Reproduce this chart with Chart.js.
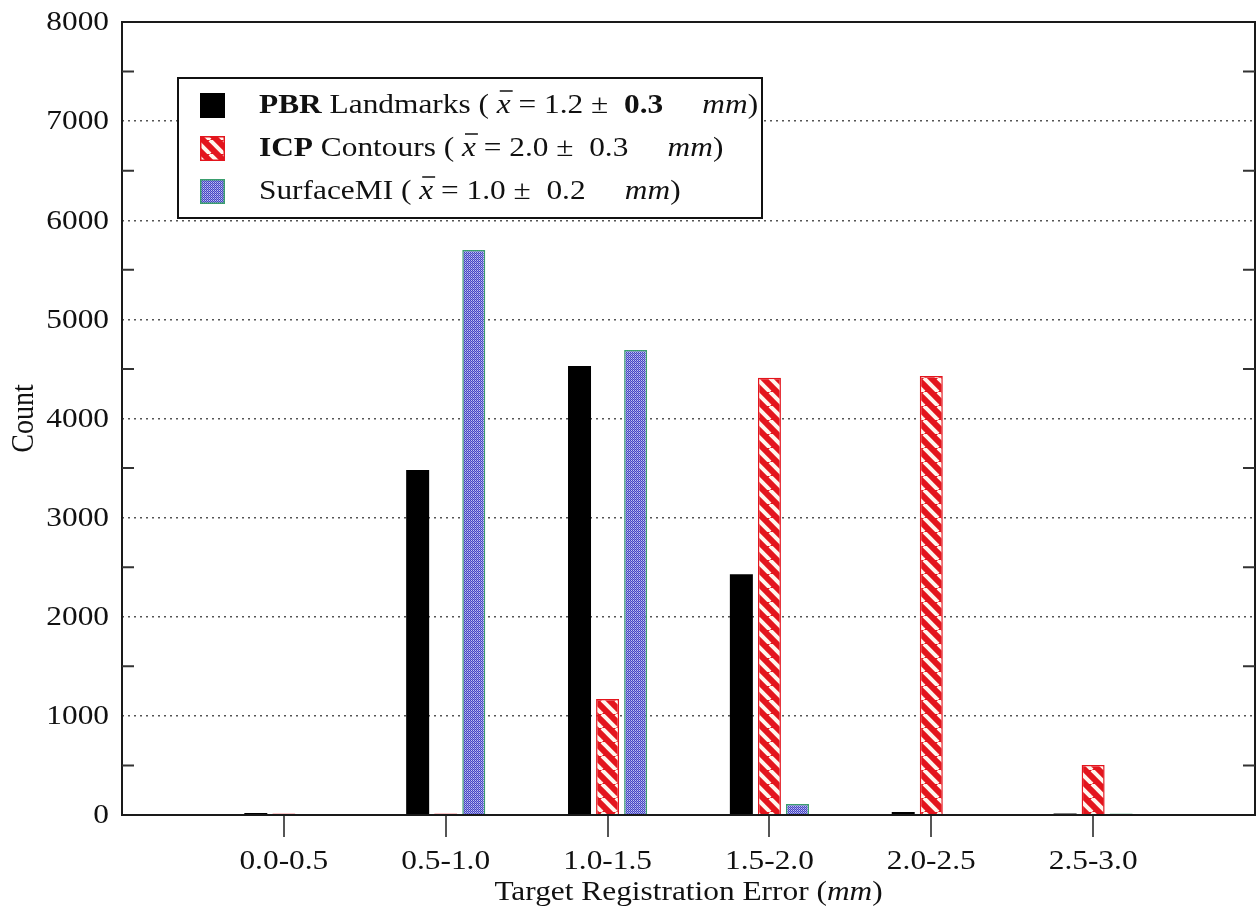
<!DOCTYPE html>
<html>
<head>
<meta charset="utf-8">
<script src="https://cdn.jsdelivr.net/npm/chart.js@4.4.0/dist/chart.umd.min.js"></script>
<style>
  html, body { margin: 0; padding: 0; background: #fff; }
</style>
</head>
<body>
<canvas id="tre-canvas" width="1257" height="911"></canvas>
<script>
// x bins (empty ones pad the frame at both ends)
const binLabels = ["", "0.0-0.5", "0.5-1.0", "1.0-1.5", "1.5-2.0", "2.0-2.5", "2.5-3.0", ""];
const pbrCounts = [10, 20, 3480, 4530, 2430, 30, 15, 0];
const icpCounts = [0, 15, 15, 1170, 4410, 4430, 505, 0];
const surfCounts = [10, 10, 5700, 4690, 110, 10, 15, 0];

const seriesNames = ["PBR Landmarks", "ICP Contours", "SurfaceMI"];
const seriesMeans = ["1.2", "2.0", "1.0"];
const seriesSds = ["0.3", "0.3", "0.2"];

const countMin = 0;
const countMax = 8000;
const countStep = 1000;
const countMinorStep = 500;

const xTitle = "Target Registration Error";
const xUnit = "mm";
const yTitle = "Count";

const FONT = "'Liberation Serif', 'Times New Roman', serif";
const FSIZE = 28;
const SX = 1.12; // the source picture is a bit wider than tall

var treChart;

function stripePattern() {
  const c = document.createElement("canvas");
  c.width = 14; c.height = 14;
  const g = c.getContext("2d");
  g.fillStyle = "#e3151d";
  g.fillRect(0, 0, 14, 14);
  g.strokeStyle = "#fff6ee";
  g.lineWidth = 4;
  for (const o of [-14, 0, 14]) {
    g.beginPath();
    g.moveTo(o, 0);
    g.lineTo(o + 14, 14);
    g.stroke();
  }
  return g.createPattern(c, "repeat");
}

function dotPattern() {
  const c = document.createElement("canvas");
  c.width = 2; c.height = 2;
  const g = c.getContext("2d");
  g.fillStyle = "#4545c4";
  g.fillRect(0, 0, 2, 2);
  g.fillStyle = "#c4c4f2";
  g.fillRect(1, 0, 1, 1);
  g.fillStyle = "#9090e0";
  g.fillRect(0, 1, 1, 1);
  return g.createPattern(c, "repeat");
}

const redFill = stripePattern();
const blueFill = dotPattern();

function fontOf(style) {
  return (style ? style + " " : "") + FSIZE + "px " + FONT;
}

// draws text stretched sideways, returns the drawn width
function wideText(ctx, t, x, y, style, align) {
  ctx.font = fontOf(style);
  const w = ctx.measureText(t).width * SX;
  let x0 = x;
  if (align === "center") x0 = x - w / 2;
  if (align === "right") x0 = x - w;
  ctx.save();
  ctx.translate(x0, y);
  ctx.scale(SX, 1);
  ctx.textAlign = "left";
  ctx.fillText(t, 0, 0);
  ctx.restore();
  return w;
}

function wideWidth(ctx, t, style) {
  ctx.font = fontOf(style);
  return ctx.measureText(t).width * SX;
}

// frame, minor ticks, tick labels, legend box and titles
const decorPlugin = {
  id: "decor",
  afterDatasetsDraw(chart) {
    const ctx = chart.ctx;
    const a = chart.chartArea;
    const ys = chart.scales.y;
    const xs = chart.scales.x;
    ctx.save();
    ctx.strokeStyle = "#1a1a1a";
    ctx.lineWidth = 2;
    ctx.strokeRect(a.left, a.top, a.right - a.left, a.bottom - a.top);
    ctx.strokeStyle = "#333";
    for (let v = countMin + countMinorStep; v < countMax; v += countStep) {
      const y = ys.getPixelForValue(v);
      ctx.beginPath();
      ctx.moveTo(a.left, y); ctx.lineTo(a.left + 12, y);
      ctx.moveTo(a.right, y); ctx.lineTo(a.right - 12, y);
      ctx.stroke();
    }

    ctx.fillStyle = "#111";
    ctx.textBaseline = "middle";
    ys.ticks.forEach((tk) => {
      wideText(ctx, String(tk.value), a.left - 13, ys.getPixelForValue(tk.value) + 1, "", "right");
    });
    binLabels.forEach((lab, i) => {
      if (lab) wideText(ctx, lab, xs.getPixelForTick(i), 862, "", "center");
    });
    ctx.restore();
  },
  afterDraw(chart) {
    const ctx = chart.ctx;
    const a = chart.chartArea;
    ctx.save();

    // legend
    const bx = 178, by = 78, bw = 584, bh = 140;
    ctx.fillStyle = "#fff";
    ctx.fillRect(bx, by, bw, bh);
    ctx.strokeStyle = "#111";
    ctx.lineWidth = 2;
    ctx.strokeRect(bx, by, bw, bh);

    const fills = ["#000", redFill, blueFill];
    const edges = ["#000", "#e3151d", "#3a9e6e"];
    const rowMid = [105, 148, 191];
    const bold = [["PBR", " Landmarks"], ["ICP", " Contours"], ["", "SurfaceMI"]];
    ctx.textBaseline = "middle";
    for (let i = 0; i < seriesNames.length; i++) {
      const sy = rowMid[i] - 12;
      ctx.fillStyle = fills[i];
      ctx.fillRect(200, sy, 25, 25);
      ctx.strokeStyle = edges[i];
      ctx.lineWidth = 1.5;
      ctx.strokeRect(200.75, sy + 0.75, 23.5, 23.5);

      const segs = [
        [bold[i][0], "bold"],
        [bold[i][1] + " ( ", ""],
        ["x", "italic"],
        [" = " + seriesMeans[i] + " \u00b1  ", ""],
        [seriesSds[i], i === 0 ? "bold" : ""],
        ["     ", ""],
        ["mm", "italic"],
        [")", ""]
      ];
      let x = 259;
      ctx.fillStyle = "#111";
      for (const [t, st] of segs) {
        if (!t) continue;
        const w = wideText(ctx, t, x, rowMid[i] + 1, st, "left");
        if (t === "x") {
          ctx.strokeStyle = "#111";
          ctx.lineWidth = 1.5;
          ctx.beginPath();
          ctx.moveTo(x + 3, rowMid[i] - 14);
          ctx.lineTo(x + w + 2, rowMid[i] - 14);
          ctx.stroke();
        }
        x += w;
      }
    }

    // x title
    ctx.fillStyle = "#111";
    const parts = [[xTitle + " (", ""], [xUnit, "italic"], [")", ""]];
    let total = 0;
    for (const [t, st] of parts) total += wideWidth(ctx, t, st);
    let tx = (a.left + a.right) / 2 - total / 2;
    for (const [t, st] of parts) {
      tx += wideText(ctx, t, tx, 893, st, "left");
    }

    // y title
    ctx.font = fontOf("");
    ctx.translate(25, (a.top + a.bottom) / 2);
    ctx.rotate(-Math.PI / 2);
    ctx.scale(1, SX);
    ctx.textAlign = "center";
    ctx.fillText(yTitle, 0, 0);
    ctx.restore();
  }
};

function setTreChart() {
  var ctxTre = document.getElementById("tre-canvas");
  return new Chart(ctxTre, {
    type: "bar",
    data: {
      labels: binLabels,
      datasets: [
        {
          label: seriesNames[0],
          data: pbrCounts,
          backgroundColor: "#000",
          borderColor: "#000",
          borderWidth: 0
        },
        {
          label: seriesNames[1],
          data: icpCounts,
          backgroundColor: redFill,
          borderColor: "#e3151d",
          borderWidth: 1.5
        },
        {
          label: seriesNames[2],
          data: surfCounts,
          backgroundColor: blueFill,
          borderColor: "#3a9e6e",
          borderWidth: 1.5
        }
      ]
    },
    options: {
      responsive: false,
      animation: false,
      devicePixelRatio: 1,
      layout: { padding: { top: 22, right: 2, left: 0, bottom: 0 } },
      categoryPercentage: 0.52,
      barPercentage: 0.82,
      plugins: {
        legend: { display: false },
        tooltip: { enabled: false },
        title: { display: false }
      },
      scales: {
        x: {
          offset: false,
          afterFit: (s) => { s.height = 96; },
          grid: {
            offset: false,
            drawOnChartArea: false,
            drawTicks: true,
            tickLength: 22,
            lineWidth: 2,
            color: (c) => (c.index === 0 || c.index === binLabels.length - 1) ? "rgba(0,0,0,0)" : "#555"
          },
          border: { display: false },
          ticks: { display: false, autoSkip: false, maxRotation: 0 }
        },
        y: {
          min: countMin,
          max: countMax,
          afterFit: (s) => { s.width = 122; },
          grid: {
            drawTicks: false,
            color: "#555",
            lineWidth: 1.5
          },
          border: { display: false, dash: [2, 4] },
          ticks: { display: false, stepSize: countStep }
        }
      }
    },
    plugins: [decorPlugin]
  });
}

treChart = setTreChart();
</script>
</body>
</html>
